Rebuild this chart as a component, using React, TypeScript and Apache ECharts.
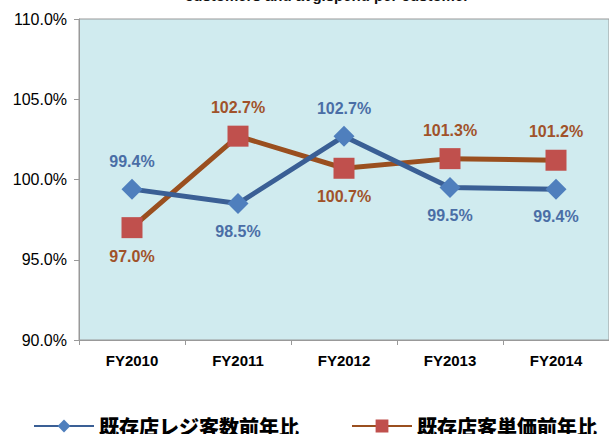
import React, { useEffect, useRef } from "react";
import * as echarts from "echarts";

const categories = ["FY2010", "FY2011", "FY2012", "FY2013", "FY2014"];
const customerCount = [99.4, 98.5, 102.7, 99.5, 99.4];
const spendPerCustomer = [97.0, 102.7, 100.7, 101.3, 101.2];
const customerLabelPos = ["top", "bottom", "top", "bottom", "bottom"];
const spendLabelPos = ["bottom", "top", "bottom", "top", "top"];
const seriesNames = ["既存店レジ客数前年比", "既存店客単価前年比"];
const titleText = "customers and avg.spend per customer";

export default function App() {
  const ref = useRef<HTMLDivElement>(null);
  useEffect(() => {
    const chart = echarts.init(ref.current!, null, { renderer: "svg" });
    const labelFont = { fontFamily: "Liberation Sans, Arial, sans-serif", fontSize: 16, fontWeight: "bold" };
    chart.setOption({
      animation: false,
      title: {
        text: titleText,
        left: 322,
        top: -17,
        textAlign: "center",
        textStyle: { fontSize: 15, fontWeight: "bold", color: "#111", fontFamily: "Liberation Sans, Arial, sans-serif" },
      },
      grid: {
        left: 79,
        top: 19,
        width: 532,
        height: 321,
        show: true,
        backgroundColor: "#d0ebef",
        borderColor: "#999",
        borderWidth: 1,
      },
      legend: {
        left: 28,
        top: 411,
        itemWidth: 60,
        itemHeight: 16,
        itemGap: 52,
        textStyle: { fontSize: 20, fontWeight: 900, color: "#000", fontFamily: "Noto Sans CJK JP" },
        data: seriesNames,
      },
      xAxis: {
        type: "category",
        data: categories,
        boundaryGap: true,
        axisLine: { lineStyle: { color: "#999", width: 1 } },
        axisTick: { show: true, alignWithLabel: false, length: 5, lineStyle: { color: "#999" } },
        axisLabel: { margin: 13, color: "#000", fontSize: 15, fontWeight: "bold", fontFamily: "Liberation Sans, Arial, sans-serif" },
        splitLine: { show: false },
      },
      yAxis: {
        type: "value",
        min: 90,
        max: 110,
        interval: 5,
        axisLine: { show: true, lineStyle: { color: "#999", width: 1 } },
        axisTick: { show: true, length: 5, lineStyle: { color: "#999" } },
        splitLine: { show: false },
        axisLabel: {
          formatter: (v: number) => `${v.toFixed(1)}%`,
          margin: 12,
          color: "#000",
          fontSize: 16,
          fontFamily: "Liberation Sans, Arial, sans-serif",
        },
      },
      series: [
        {
          name: seriesNames[0],
          type: "line",
          data: customerCount.map((v, i) => ({
            value: v,
            label: { position: customerLabelPos[i] },
          })),
          symbol: "diamond",
          symbolSize: 21,
          lineStyle: { color: "#3a5f95", width: 5 },
          itemStyle: { color: "#4f7fbd" },
          label: {
            show: true,
            distance: 9,
            color: "#4a6ea6",
            ...labelFont,
            formatter: (p: any) => `${p.value.toFixed(1)}%`,
          },
          z: 3,
        },
        {
          name: seriesNames[1],
          type: "line",
          data: spendPerCustomer.map((v, i) => ({
            value: v,
            label: { position: spendLabelPos[i] },
          })),
          symbol: "rect",
          symbolSize: 21,
          lineStyle: { color: "#9a4f1f", width: 5 },
          itemStyle: { color: "#c0504d" },
          label: {
            show: true,
            distance: 10,
            color: "#a0522a",
            ...labelFont,
            formatter: (p: any) => `${p.value.toFixed(1)}%`,
          },
          z: 2,
        },
      ],
    });
    return () => chart.dispose();
  }, []);
  return <div ref={ref} style={{ width: 609, height: 434, position: "absolute", left: 0, top: 0 }} />;
}
